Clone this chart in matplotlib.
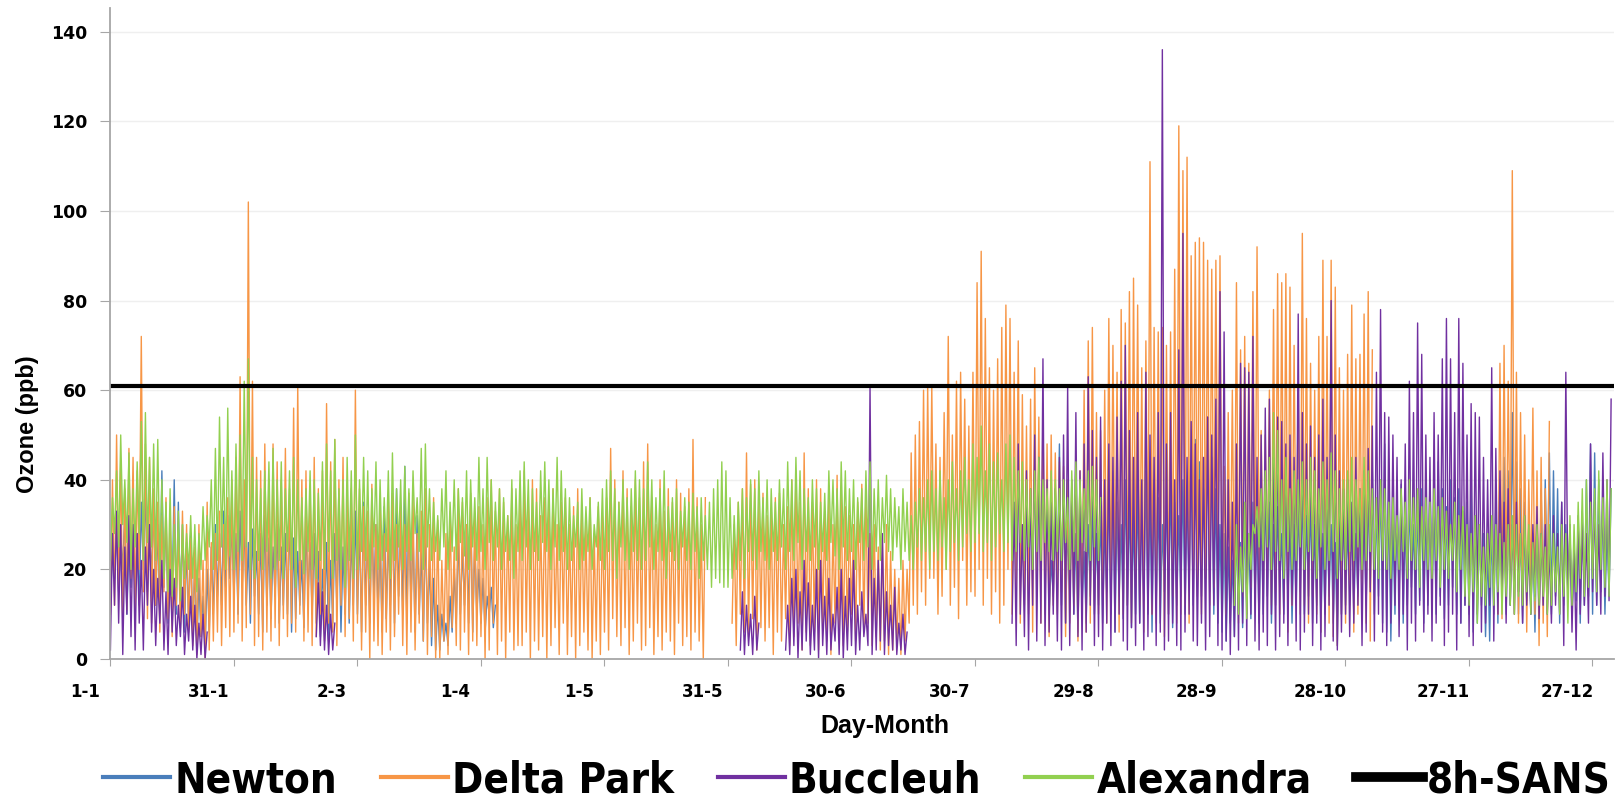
import os
import numpy as np
import matplotlib
matplotlib.use("Agg")
import matplotlib.pyplot as plt
from matplotlib import font_manager
from matplotlib.font_manager import FontProperties
from matplotlib.transforms import ScaledTranslation

# --- data: daily low / daily high of the 8h ozone running mean (ppb), day 0 = 1 Jan ---
# None marks days with no data at that station

newton_lo = [
    12, 18, 15, 20, 10, 16, 14, 12, 20, 15,
    18, 12, 10, 16, 8, 14, 10, 12, 6, 8,
    4, 3, 5, 2, 6, 10, 14, 12, 16, 18,
    14, 10, 16, 12, 8, 14, 10, 6, 12, 9,
    14, 8, 12, 10, 6, 9, 12, 7, 14, 10,
    8, 5, 10, 4, 8, 12, 6, 10, 8, 12,
    10, 6, 12, 8, 14, 10, 6, 9, 12, 8,
    14, 10, 8, 12, 6, 10, 4, 8, 3, 2,
    2, 4, 3, 6, 8, 10, 12, 8, 6, 10,
    8, 6, 10, 7] + [None] * 134 + [
    10, 14,
    18, 12, 8, 15, 10, 6, 12, 8, 14, 10,
    12, 8, 15, 10, 6, 14, 9, 12, 7, 10,
    8, 13, 10, 6, 12, 8, 15, 10, 7, 12,
    14, 10, 16, 12, 18, 14, 20, 15, 10, 8,
    6, 4, 8, 5, 10, 7, 12, 9, 14, 8,
    10, 14, 8, 12, 16, 10, 13, 8, 12, 15,
    10, 14, 8, 12, 6, 10, 14, 8, 3, 10,
    12, 15, 10, 14, 18, 12, 16, 10, 14, 8,
    6, 4, 10, 14, 8, 12, 16, 10, 13, 8,
    12, 15, 10, 14, 9, 12, 16, 10, 8, 12,
    10, 6, 8, 12, 5, 4, 10, 8, 14, 10,
    12, 16, 10, 8, 13, 10, 6, 8, 12, 15,
    10, 14, 8, 12, 15, 10, 13, 8, 12, 14,
    10, 12, 15, 10, 14]

newton_hi = [
    25, 30, 28, 33, 26, 30, 28, 35, 38, 30,
    36, 30, 42, 32, 28, 40, 35, 30, 26, 28,
    22, 18, 14, 20, 25, 30, 28, 33, 32, 30,
    28, 33, 30, 26, 29, 24, 28, 32, 27, 25,
    30, 25, 28, 33, 27, 24, 22, 30, 26, 28,
    24, 20, 26, 22, 28, 30, 25, 32, 28, 33,
    30, 35, 28, 32, 30, 26, 34, 28, 35, 38,
    30, 43, 35, 28, 32, 25, 30, 22, 18, 12,
    10, 8, 14, 20, 28, 25, 30, 34, 26, 20,
    18, 14, 16, 12] + [None] * 134 + [
    22, 30,
    48, 38, 30, 35, 28, 32, 24, 30, 35, 28,
    33, 30, 38, 42, 35, 30, 40, 36, 32, 38,
    35, 42, 38, 40, 36, 30, 38, 41, 35, 32,
    40, 38, 44, 49, 44, 38, 54, 45, 38, 30,
    28, 25, 22, 30, 26, 32, 28, 35, 30, 33,
    38, 35, 30, 34, 28, 36, 32, 30, 35, 38,
    32, 36, 30, 34, 28, 33, 30, 26, 32, 35,
    30, 33, 28, 36, 32, 38, 42, 35, 40, 48,
    38, 30, 35, 39, 32, 36, 30, 34, 38, 35,
    40, 36, 44, 38, 34, 40, 36, 38, 33, 35,
    39, 32, 30, 28, 25, 30, 35, 40, 45, 42,
    55, 44, 38, 35, 30, 28, 32, 38, 40, 46,
    42, 38, 35, 30, 28, 25, 30, 33, 40, 48,
    46, 40, 35, 30, 38]

delta_lo = [
    10, 12, 15, 8, 11, 18, 10, 20, 15, 9,
    8, 12, 6, 15, 9, 5, 12, 7, 10, 6,
    3, 1, 5, 0, 2, 4, 6, 3, 7, 5,
    6, 8, 4, 7, 10, 3, 5, 2, 6, 4,
    7, 3, 9, 5, 8, 6, 10, 4, 6, 3,
    5, 10, 4, 8, 6, 3, 12, 5, 9, 4,
    8, 2, 6, 0, 4, 3, 1, 6, 2, 5,
    10, 3, 1, 6, 2, 8, 4, 1, 5, 0,
    0, 4, 1, 7, 3, 2, 6, 1, 4, 3,
    5, 0, 2, 8, 1, 4, 0, 6, 2, 3,
    3, 6, 0, 4, 2, 5, 0, 3, 7, 1,
    8, 1, 5, 0, 3, 6, 2, 0, 4, 1,
    6, 2, 9, 5, 3, 7, 1, 4, 8, 2,
    3, 7, 1, 5, 2, 6, 4, 1, 8, 3,
    5, 2, 6, 4, 0] + [None] * 6 + [
    8, 3, 10, 6, 5, 9, 2, 7, 4,
    7, 1, 6, 4, 9, 3, 5, 8, 2, 6,
    3, 6, 2, 7, 4, 1, 8, 5, 3, 6,
    10, 4, 12, 6, 8, 3, 5, 2, 4, 1,
    2, 3, 1, 4, 8, 12, 10, 15, 12, 18,
    18, 10, 14, 20, 12, 16, 9, 22, 12, 15,
    14, 20, 12, 18, 10, 15, 8, 12, 20, 10,
    15, 8, 12, 10, 6, 14, 8, 10, 5, 12,
    10, 15, 5, 8, 12, 4, 10, 6, 8, 12,
    10, 14, 8, 12, 15, 6, 10, 12, 8, 16,
    12, 6, 15, 10, 8, 12, 5, 10, 14, 8,
    10, 12, 8, 15, 14, 10, 18, 12, 16, 20,
    13, 10, 15, 12, 8, 14, 10, 16, 12, 20,
    14, 18, 12, 15, 10, 13, 6, 12, 15, 10,
    12, 8, 14, 10, 6, 12, 8, 5, 3, 10,
    8, 12, 6, 10, 14, 8, 4] + [None] * 30 + [
    10, 9, 14, 20, 10, 8, 12, 6, 15, 10, 3, 8, 5] + [None] * 15

delta_hi = [
    40, 50, 44, 38, 47, 45, 42, 72, 48, 45,
    38, 35, 32, 36, 30, 34, 28, 33, 30, 27,
    25, 30, 22, 35, 26, 28, 33, 30, 36, 40,
    45, 63, 40, 102, 62, 45, 42, 48, 40, 48,
    44, 40, 47, 38, 56, 61, 40, 42, 38, 45,
    38, 42, 57, 44, 49, 40, 45, 36, 38, 60,
    38, 34, 33, 39, 30, 36, 28, 35, 37, 30,
    34, 30, 37, 36, 28, 33, 38, 30, 36, 31,
    22, 28, 33, 25, 38, 35, 30, 37, 32, 34,
    30, 36, 40, 33, 38, 35, 32, 38, 30, 36,
    42, 35, 40, 38, 32, 36, 34, 38, 30, 35,
    36, 30, 34, 38, 33, 30, 36, 28, 34, 32,
    36, 47, 40, 35, 42, 38, 34, 40, 36, 44,
    48, 36, 30, 40, 33, 38, 35, 40, 37, 34,
    38, 49, 36, 30, 36] + [None] * 6 + [
    30, 35, 38, 46, 39, 40, 35, 37, 32,
    33, 36, 37, 30, 34, 40, 42, 35, 46, 38,
    35, 40, 38, 33, 36, 30, 41, 37, 34, 32,
    30, 35, 39, 37, 28, 30, 25, 27, 30, 24,
    20, 18, 22, 20, 46, 50, 53, 60, 61, 61,
    48, 45, 55, 72, 50, 62, 64, 58, 52, 64,
    84, 91, 76, 65, 60, 67, 74, 79, 76, 64,
    71, 59, 52, 58, 65, 54, 55, 48, 50, 46,
    44, 43, 40, 38, 45, 42, 60, 71, 74, 55,
    51, 60, 76, 70, 64, 78, 75, 82, 85, 79,
    65, 71, 111, 74, 73, 74, 70, 73, 87, 119,
    109, 112, 90, 93, 94, 93, 89, 87, 89, 90,
    43, 55, 60, 84, 69, 72, 66, 82, 92, 51,
    50, 60, 78, 86, 84, 86, 83, 70, 60, 95,
    76, 66, 60, 72, 89, 72, 89, 83, 65, 60,
    68, 79, 67, 68, 77, 82, 69] + [None] * 30 + [
    66, 70, 62, 109, 64, 55, 50, 40, 56, 42, 45, 38, 53] + [None] * 15

buccleuh_lo = [
    2, 12, 8, 1, 10, 5, 2, 8, 2, 12,
    6, 3, 8, 2, 1, 6, 3, 5, 1, 4,
    2, 0, 1, 0] + [None] * 26 + [
    5, 3, 2, 1, 2] + [None] * 98 + [
    2, 1, 3, 1, 2] + [None] * 6 + [
    2, 1, 3, 0, 2, 4, 1, 2, 0, 3,
    1, 2, 4, 1, 0, 2, 3, 1, 2, 5,
    3, 1, 2, 4, 1, 3, 2, 1, 2, 1] + [None] * 25 + [
    8,
    3, 10, 5, 2, 12, 4, 8, 3, 6, 10,
    4, 2, 8, 3, 10, 5, 2, 6, 12, 3,
    5, 2, 8, 3, 6, 10, 4, 2, 7, 3,
    8, 2, 5, 10, 3, 6, 2, 4, 8, 3,
    2, 6, 10, 4, 3, 8, 2, 5, 12, 3,
    2, 4, 1, 5, 2, 8, 3, 10, 4, 2,
    6, 3, 10, 2, 5, 8, 3, 12, 4, 2,
    6, 10, 3, 8, 2, 5, 12, 4, 2, 6,
    10, 5, 8, 12, 3, 6, 15, 4, 10, 6,
    3, 8, 12, 5, 10, 2, 8, 4, 12, 6,
    10, 4, 8, 12, 3, 6, 10, 2, 8, 12,
    5, 3, 10, 6, 8, 12, 4, 10, 15, 8,
    12, 10, 15, 8, 12, 10, 14, 9, 12, 10,
    8, 12, 10, 3, 14, 6, 2, 10, 12, 8,
    15, 12, 10, 14, 13]

buccleuh_hi = [
    28, 33, 30, 25, 32, 30, 28, 22, 25, 30,
    20, 18, 22, 15, 20, 18, 12, 16, 10, 14,
    12, 8, 10, 6] + [None] * 26 + [
    17, 15, 12, 10, 8] + [None] * 98 + [
    15, 12, 10, 14, 8] + [None] * 6 + [
    12, 18, 20, 15, 22, 17, 12, 20, 22, 14,
    18, 10, 16, 20, 14, 18, 22, 12, 15, 10,
    61, 18, 22, 28, 15, 12, 16, 8, 10, 6] + [None] * 25 + [
    35,
    48, 30, 42, 38, 50, 45, 67, 40, 35, 38,
    45, 50, 61, 40, 55, 42, 48, 63, 51, 45,
    54, 40, 48, 45, 54, 62, 70, 51, 45, 55,
    40, 64, 50, 45, 55, 136, 48, 55, 40, 69,
    95, 45, 53, 48, 40, 45, 54, 50, 58, 82,
    73, 40, 35, 48, 66, 65, 64, 72, 45, 50,
    56, 58, 45, 54, 53, 48, 50, 45, 77, 55,
    48, 52, 45, 50, 58, 45, 80, 50, 42, 38,
    40, 35, 45, 38, 42, 47, 52, 64, 78, 55,
    54, 50, 45, 40, 48, 62, 55, 75, 68, 50,
    45, 55, 50, 67, 76, 67, 55, 76, 66, 50,
    57, 55, 54, 45, 40, 65, 47, 42, 35, 38,
    30, 35, 28, 32, 25, 30, 34, 28, 30, 25,
    32, 28, 35, 64, 30, 26, 32, 30, 28, 48,
    35, 30, 46, 40, 58]

alexandra_lo = [
    22, 28, 25, 30, 26, 20, 25, 28, 22, 26,
    25, 22, 20, 18, 15, 14, 16, 13, 18, 20,
    18, 15, 20, 22, 25, 20, 22, 25, 20, 23,
    20, 24, 22, 25, 20, 18, 22, 20, 24, 18,
    20, 22, 18, 24, 20, 16, 22, 19, 24, 20,
    18, 22, 20, 24, 18, 22, 20, 16, 22, 18,
    20, 24, 22, 18, 25, 20, 22, 24, 18, 22,
    25, 20, 24, 22, 28, 24, 20, 25, 22, 24,
    22, 25, 20, 24, 22, 26, 23, 20, 25, 22,
    24, 20, 26, 22, 25, 20, 24, 22, 18, 24,
    22, 25, 20, 24, 22, 26, 24, 20, 25, 22,
    24, 20, 22, 25, 20, 22, 24, 20, 25, 22,
    20, 24, 22, 18, 25, 22, 20, 24, 22, 20,
    22, 25, 20, 24, 22, 18, 24, 22, 20, 25,
    22, 20, 24, 18, 22, 20, 16, 18, 17, 16,
    16, 18, 20, 22, 18, 24, 22, 20, 24, 22,
    20, 24, 22, 25, 20, 24, 22, 26, 20, 24,
    22, 25, 20, 24, 22, 26, 23, 20, 25, 22,
    24, 20, 26, 22, 25, 20, 24, 22, 26, 24,
    22, 25, 20, 24, 22, 20, 25, 22, 24, 20,
    24, 22, 25, 20, 24, 26, 22, 25, 28, 24,
    26, 28, 24, 26, 22, 25, 28, 24, 26, 22,
    24, 26, 22, 25, 20, 24, 22, 26, 24, 22,
    24, 22, 26, 20, 24, 22, 26, 24, 22, 25,
    22] + [None] * 32 + [
    12, 10, 15, 9, 20, 28, 25,
    22, 25, 20, 24, 22, 18, 24, 20, 22, 25,
    20, 24, 22, 18, 25, 20, 22, 24, 18, 22,
    20, 24, 22, 25, 20, 22, 24, 20, 18, 22,
    20, 18, 22, 20, 24, 18, 22, 20, 16, 22,
    20, 18, 22, 16, 20, 18, 22, 15, 20, 14,
    12, 15, 8, 14, 12, 16, 12, 15, 10, 14,
    12, 10, 14, 12, 15, 10, 13, 12, 14, 10,
    12, 15, 10, 14, 8, 12, 15, 18, 14, 16,
    18, 15, 20, 16, 14]

alexandra_hi = [
    36, 42, 50, 40, 46, 38, 44, 53, 55, 45,
    48, 49, 40, 35, 38, 30, 33, 30, 28, 32,
    30, 28, 34, 32, 40, 47, 54, 45, 56, 42,
    48, 50, 62, 67, 45, 40, 38, 42, 44, 47,
    40, 44, 38, 42, 45, 40, 36, 38, 42, 40,
    37, 44, 48, 42, 49, 38, 40, 45, 42, 50,
    40, 45, 42, 38, 44, 40, 36, 42, 46, 38,
    40, 43, 38, 42, 36, 47, 48, 38, 35, 32,
    38, 42, 35, 40, 38, 36, 42, 40, 36, 45,
    38, 45, 40, 35, 38, 36, 32, 40, 38, 42,
    44, 40, 38, 35, 42, 44, 40, 38, 45, 42,
    38, 36, 32, 35, 38, 34, 36, 30, 35, 38,
    40, 42, 38, 35, 40, 36, 38, 42, 40, 38,
    44, 40, 36, 38, 42, 34, 36, 38, 33, 36,
    35, 37, 34, 36, 32, 35, 38, 40, 44, 42,
    36, 32, 35, 38, 36, 40, 38, 42, 36, 40,
    38, 35, 40, 38, 44, 40, 45, 42, 38, 36,
    40, 38, 35, 37, 42, 40, 38, 44, 42, 38,
    40, 36, 38, 42, 44, 38, 40, 36, 41, 38,
    36, 34, 38, 35, 32, 35, 38, 36, 40, 42,
    38, 42, 36, 40, 44, 38, 42, 45, 40, 48,
    45, 52, 42, 48, 44, 46, 40, 48, 50, 45,
    42, 44, 40, 38, 42, 45, 40, 38, 42, 40,
    38, 40, 36, 42, 44, 40, 38, 42, 43, 40,
    36] + [None] * 32 + [
    30, 25, 35, 28, 30, 34, 38,
    42, 45, 55, 51, 40, 45, 38, 42, 40, 44,
    40, 45, 42, 38, 44, 40, 46, 42, 38, 40,
    42, 45, 40, 38, 45, 42, 38, 36, 40, 38,
    35, 36, 32, 38, 35, 40, 36, 38, 34, 36,
    35, 38, 34, 36, 33, 30, 35, 32, 34, 30,
    28, 32, 30, 25, 28, 32, 30, 28, 26, 30,
    32, 30, 28, 32, 30, 26, 30, 28, 25, 30,
    28, 25, 30, 28, 32, 30, 35, 38, 40, 35,
    38, 42, 36, 40, 38]

sans_limit = 61  # 8-hour SANS standard, ppb

tick_days = [0, 30, 60, 90, 120, 150, 180, 210, 240, 270, 300, 330, 360]
tick_labels = ["1-1", "31-1", "2-3", "1-4", "1-5", "31-5", "30-6",
               "30-7", "29-8", "28-9", "28-10", "27-11", "27-12"]

stations = ["Newton", "Delta Park", "Buccleuh", "Alexandra"]
colors = ["#4A7EBB", "#F79646", "#7030A0", "#92D050"]


def zigzag(lo, hi):
    # night low then afternoon high for each day
    lo = np.array(lo, dtype=float)
    hi = np.array(hi, dtype=float)
    days = np.arange(len(lo))
    x = np.column_stack([days + 0.1, days + 0.6]).ravel()
    y = np.column_stack([lo, hi]).ravel()
    return x, y


series = [(newton_lo, newton_hi), (delta_lo, delta_hi),
          (buccleuh_lo, buccleuh_hi), (alexandra_lo, alexandra_hi)]

W, H = 1620, 805
fig = plt.figure(figsize=(W / 100, H / 100), dpi=100)
ax = fig.add_axes([110 / W, 1 - 659 / H, 1504 / W, (659 - 8) / H])

for name, (lo, hi), c in zip(stations, series, colors):
    x, y = zigzag(lo, hi)
    ax.plot(x, y, color=c, lw=1.0, label=name)
ax.axhline(sans_limit, color="black", lw=3.0, label="8h-SANS")

ax.set_xlim(0, 365.3)
ax.set_ylim(0, 145.3)
ax.set_yticks(range(0, 141, 20))
ax.grid(axis="y", color="#EFEFEF", lw=1.0)
ax.set_axisbelow(True)

for s in ["top", "right"]:
    ax.spines[s].set_visible(False)
for s in ["left", "bottom"]:
    ax.spines[s].set_color("#A6A6A6")
    ax.spines[s].set_linewidth(1.3)

ax.set_xticks(tick_days, tick_labels)
ax.tick_params(axis="y", length=7, color="#A6A6A6", pad=9.5)
ax.tick_params(axis="x", length=5, color="#A6A6A6", pad=12)
for lbl in ax.get_yticklabels():
    lbl.set_fontfamily("DejaVu Sans")
    lbl.set_fontweight("bold")
    lbl.set_fontsize(12.5)
for lbl in ax.get_xticklabels():
    lbl.set_fontfamily("DejaVu Sans")
    lbl.set_fontweight("bold")
    lbl.set_fontsize(12)
# the date labels sit a little left of their ticks
shift = ScaledTranslation(-0.25, 0, fig.dpi_scale_trans)
for lbl in ax.get_xticklabels():
    lbl.set_transform(lbl.get_transform() + shift)

ax.set_ylabel("Ozone (ppb)", fontsize=17, fontweight="bold", family="Liberation Sans")
ax.yaxis.set_label_coords(-0.047, 0.361)
ax.set_xlabel("Day-Month", fontsize=18, fontweight="bold", family="Liberation Sans")
ax.xaxis.set_label_coords(0.515, -0.085)

# legend: tall condensed bold text; use a narrow face if one is installed
narrow = None
wanted = ["LiberationSansNarrow-Bold", "DejaVuSansCondensed-Bold",
          "RobotoCondensed-Bold", "OpenSansCondensed-Bold", "OpenSans_Condensed-Bold"]
for f in font_manager.fontManager.ttflist:
    base = os.path.splitext(os.path.basename(f.fname))[0]
    if base in wanted:
        if narrow is None or wanted.index(base) < wanted.index(narrow[0]):
            narrow = (base, f.fname)
if narrow:
    leg_fp = FontProperties(fname=narrow[1])
else:
    leg_fp = FontProperties(family="Liberation Sans", weight="bold")

handles, labels = ax.get_legend_handles_labels()


def make_legend(size):
    leg_fp.set_size(size)
    em = size * 100 / 72  # font size in px
    lg = fig.legend(handles, labels, loc="center left", bbox_to_anchor=(103 / W, 1 - 780 / H),
                    ncol=5, frameon=False, borderpad=0, borderaxespad=0,
                    handlelength=67 / em, handletextpad=4 / em, columnspacing=44 / em,
                    prop=leg_fp)
    for ln in lg.get_lines():
        ln.set_linewidth(3)
    lg.get_lines()[-1].set_linewidth(7)
    return lg


# fit the legend row between x = 103 px and x = 1610 px
size = 30
leg = make_legend(size)
fig.canvas.draw()
width = leg.get_window_extent().width
leg.remove()
leg = make_legend(size * 1507 / width)

fig.savefig("out.png", dpi=100)
